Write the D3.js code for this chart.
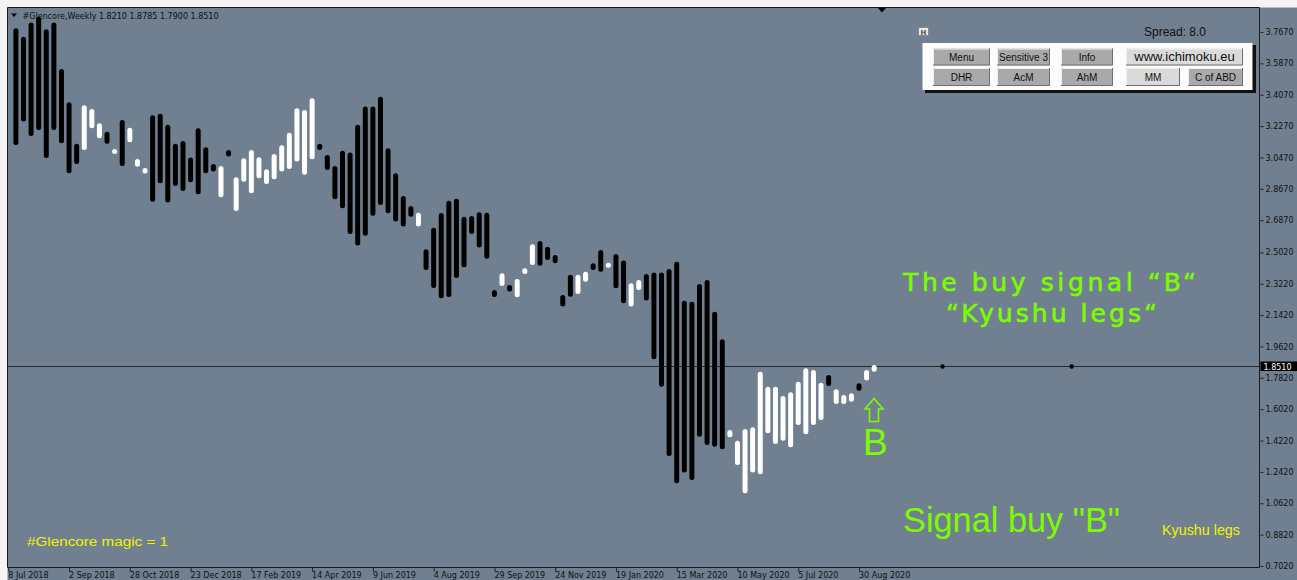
<!DOCTYPE html>
<html>
<head>
<meta charset="utf-8">
<script src="https://cdn.jsdelivr.net/npm/d3@7"></script>
<style>
  html, body { margin: 0; padding: 0; background: #f4f4f4; }
  svg { display: block; }
</style>
</head>
<body>
<svg id="chart" width="1297" height="580"></svg>
<script>
// ---------------- DATA ----------------
const symbolTitle = "#Glencore,Weekly";
const ohlcText = "1.8210 1.8785 1.7900 1.8510";
const firstWeek = "2018-07-08";           // week before the first bar
const barHigh = [
  3.789,3.740,3.821,3.855,3.783,3.821,3.555,3.364,3.125,3.347,
  3.325,3.243,3.195,3.096,3.262,3.218,3.038,2.987,3.289,3.298,
  3.234,3.125,3.142,3.046,3.215,3.106,3.010,2.998,3.090,2.933,
  3.042,3.090,3.048,2.979,3.067,3.117,3.189,3.329,3.320,3.387,
  3.125,3.061,2.998,3.086,3.075,3.234,3.339,3.339,3.396,3.100,
  2.956,2.826,2.769,2.730,2.520,2.644,2.728,2.799,2.810,2.707,
  2.711,2.732,2.730,2.286,2.382,2.315,2.350,2.411,2.549,2.568,
  2.535,2.487,2.258,2.373,2.373,2.391,2.440,2.516,2.443,2.493,
  2.455,2.325,2.344,2.378,2.386,2.386,2.407,2.449,2.225,2.219,
  2.321,2.344,2.162,2.003,1.483,1.421,1.488,1.498,1.817,1.731,
  1.731,1.678,1.699,1.760,1.837,1.827,1.754,1.798,1.716,1.684,
  1.693,1.751,1.827,1.856
];
const barLow = [
  3.119,3.253,3.170,3.205,3.044,3.205,3.129,2.956,3.010,3.090,
  3.215,3.157,3.125,3.067,2.998,3.134,2.994,2.955,2.793,2.899,
  2.788,2.883,2.855,2.905,2.836,2.956,2.966,2.819,3.052,2.740,
  2.908,2.842,2.928,2.895,2.922,2.966,2.981,3.023,2.947,3.037,
  3.090,2.975,2.807,2.755,2.608,2.541,2.598,2.713,2.774,2.727,
  2.679,2.650,2.707,2.650,2.401,2.298,2.239,2.246,2.355,2.417,
  2.608,2.530,2.466,2.246,2.309,2.277,2.245,2.378,2.430,2.426,
  2.459,2.440,2.191,2.248,2.263,2.334,2.401,2.391,2.417,2.296,
  2.210,2.191,2.286,2.226,1.889,1.731,1.333,1.177,1.238,1.196,
  1.444,1.397,1.387,1.372,1.441,1.282,1.119,1.238,1.228,1.464,
  1.402,1.421,1.383,1.511,1.458,1.511,1.540,1.735,1.632,1.632,
  1.645,1.708,1.766,1.817
];
// k = black (bearish leg), w = white (bullish leg)
const barKind = (
  "kkkkkkkkk" + "www" + "k" + "w" + "k" + "www" + "kkkkkkkkk" + "w" + "k" +
  "wwwwwwwwwww" + "kkkkkkkkkkkkk" + "w" + "kkkkkkkkkk" + "w" + "k" + "www" +
  "kkkkk" + "ww" + "kk" + "w" + "kk" + "ww" + "kkkkkkkkkkk" + "wwwwwwwwwwwww" +
  "k" + "www" + "k" + "ww"
).split("");
const priceTicks = ["3.7670","3.5870","3.4070","3.2270","3.0470","2.8670","2.6870","2.5020","2.3220",
                    "2.1420","1.9620","1.7820","1.6020","1.4220","1.2420","1.0620","0.8820","0.7020"];
const dateTickLabels = ["8 Jul 2018","2 Sep 2018","28 Oct 2018","23 Dec 2018","17 Feb 2019","14 Apr 2019",
  "9 Jun 2019","4 Aug 2019","29 Sep 2019","24 Nov 2019","19 Jan 2020","15 Mar 2020","10 May 2020",
  "5 Jul 2020","30 Aug 2020"];
const dateTickValues = ["2018-07-08","2018-09-02","2018-10-28","2018-12-23","2019-02-17","2019-04-14",
  "2019-06-09","2019-08-04","2019-09-29","2019-11-24","2020-01-19","2020-03-15","2020-05-10",
  "2020-07-05","2020-08-30"];
const currentPrice = 1.8510;
const lineDotWeeks = [123, 140];   // weeks after firstWeek
const buttonsRow1 = ["Menu","Sensitive 3","Info","www.ichimoku.eu"];
const buttonsRow2 = ["DHR","AcM","AhM","MM","C of ABD"];
const spreadText = "Spread: 8.0";

// ---------------- SETUP ----------------
const W = 1297, H = 580;
const L = 7.5, T = 7.5, R = 1259.5, B = 567.5;
const bg = "#708090";
const green = "#7cfc00";
const svg = d3.select("#chart");

const parse = d3.utcParse("%Y-%m-%d");
const x = d3.scaleUtc()
  .domain([parse("2018-07-08"), parse("2020-08-30")])
  .range([8.3, 859]);
const y = d3.scaleLinear().domain([0.702, 3.767]).range([566, 32]);

const start = parse(firstWeek);
const bars = barHigh.map((h, i) => ({
  date: d3.utcWeek.offset(start, i + 1), high: h, low: barLow[i], kind: barKind[i]
}));

// background
svg.append("rect").attr("x", L).attr("y", T).attr("width", W - L).attr("height", H - T).attr("fill", bg);

// header text
svg.append("path").attr("d", "M11,13.5 L17,13.5 L14,17 Z").attr("fill", "#000");
svg.append("text").attr("x", 22.5).attr("y", 18.5)
  .attr("font-family", "DejaVu Sans, sans-serif").attr("font-size", 8).attr("fill", "#111")
  .text(symbolTitle + "  " + ohlcText);

// shift marker
svg.append("path").attr("d", "M877.5,7.5 L886.5,7.5 L882,12.5 Z").attr("fill", "#000");

// price line
svg.append("line").attr("x1", L).attr("x2", R).attr("y1", Math.round(y(currentPrice)) + 0.5)
  .attr("y2", Math.round(y(currentPrice)) + 0.5).attr("stroke", "#262a30").attr("stroke-width", 1.2);
svg.selectAll("circle.ld").data(lineDotWeeks).enter().append("circle")
  .attr("cx", d => x(d3.utcWeek.offset(start, d)))
  .attr("cy", Math.round(y(currentPrice)) + 0.5).attr("r", 2.2).attr("fill", "#000");

// bars
svg.append("g").selectAll("rect").data(bars).enter().append("rect")
  .attr("x", d => x(d.date) - 2.5)
  .attr("y", d => y(d.high))
  .attr("width", 5)
  .attr("height", d => Math.max(5, y(d.low) - y(d.high)))
  .attr("rx", 2.5)
  .attr("fill", d => d.kind === "w" ? "#ffffff" : "#000000");

// frame
svg.append("path").attr("d", `M${L},${B} L${L},${T} L${R},${T} L${R},${B} Z`)
  .attr("fill", "none").attr("stroke", "#1a1a1a").attr("stroke-width", 1);

// right axis
const yAxis = d3.axisRight(y).tickValues(priceTicks.map(Number))
  .tickFormat((d, i) => priceTicks[i]).tickSize(3).tickPadding(2);
const gy = svg.append("g").attr("transform", `translate(${R + 1},0)`).call(yAxis);
gy.select(".domain").remove();
gy.selectAll("line").attr("stroke", "#222");
gy.selectAll("text").attr("font-family", "DejaVu Sans, sans-serif").attr("font-size", 8).attr("fill", "#111");

// price label
const py = Math.round(y(currentPrice));
svg.append("rect").attr("x", R + 1).attr("y", py - 4.5).attr("width", W - R).attr("height", 9.5).attr("fill", "#000");
svg.append("text").attr("x", R + 4).attr("y", py + 3.5)
  .attr("font-family", "DejaVu Sans, sans-serif").attr("font-size", 8).attr("fill", "#fff")
  .text(currentPrice.toFixed(4));

// bottom axis
const xAxis = d3.axisBottom(x).tickValues(dateTickValues.map(parse))
  .tickFormat((d, i) => dateTickLabels[i]).tickSize(4).tickPadding(1);
const gx = svg.append("g").attr("transform", `translate(0,${B})`).call(xAxis);
gx.select(".domain").remove();
gx.selectAll("line").attr("stroke", "#222");
gx.selectAll("text").attr("font-family", "DejaVu Sans, sans-serif").attr("font-size", 8).attr("fill", "#111")
  .attr("text-anchor", "start").attr("dx", -0.5);

// ---------------- ANNOTATIONS ----------------
svg.append("text").attr("x", 903).attr("y", 291)
  .attr("font-family", "DejaVu Sans, sans-serif").attr("font-size", 25).attr("fill", green)
  .attr("stroke", green).attr("stroke-width", 0.6)
  .attr("textLength", 293).attr("lengthAdjust", "spacing")
  .text("The buy signal \u201cB\u201c");
svg.append("text").attr("x", 946).attr("y", 322)
  .attr("font-family", "DejaVu Sans, sans-serif").attr("font-size", 25).attr("fill", green)
  .attr("stroke", green).attr("stroke-width", 0.6)
  .attr("textLength", 211).attr("lengthAdjust", "spacing")
  .text("\u201cKyushu legs\u201c");

// arrow and B
svg.append("path")
  .attr("d", "M874,398.5 L883,409 L878.5,409 L878.5,421.5 L869.5,421.5 L869.5,409 L865,409 Z")
  .attr("fill", "none").attr("stroke", green).attr("stroke-width", 1.6).attr("stroke-linejoin", "miter");
svg.append("text").attr("x", 863).attr("y", 455)
  .attr("font-family", "Liberation Sans, Arial, sans-serif").attr("font-size", 37).attr("fill", green)
  .text("B");

svg.append("text").attr("x", 903).attr("y", 532)
  .attr("font-family", "Liberation Sans, Arial, sans-serif").attr("font-size", 35).attr("fill", green)
  .attr("textLength", 217).attr("lengthAdjust", "spacingAndGlyphs")
  .text("Signal buy \"B\"");
svg.append("text").attr("x", 1162).attr("y", 535)
  .attr("font-family", "Liberation Sans, Arial, sans-serif").attr("font-size", 14).attr("fill", "#f2f200")
  .attr("textLength", 78).attr("lengthAdjust", "spacingAndGlyphs")
  .text("Kyushu legs");
svg.append("text").attr("x", 27).attr("y", 546)
  .attr("font-family", "Liberation Sans, Arial, sans-serif").attr("font-size", 13).attr("fill", "#f2f200")
  .attr("textLength", 141).attr("lengthAdjust", "spacingAndGlyphs")
  .text("#Glencore  magic = 1");

// ---------------- BUTTON PANEL ----------------
const panel = svg.append("g");
panel.append("rect").attr("x", 925).attr("y", 45).attr("width", 331).attr("height", 48).attr("fill", "#111");
panel.append("rect").attr("x", 922.5).attr("y", 43).attr("width", 330).attr("height", 47).attr("fill", "#fcfcfc");
// H icon
panel.append("rect").attr("x", 918.5).attr("y", 27.5).attr("width", 10).attr("height", 8).attr("fill", "#e8e8e8").attr("stroke", "#888");
panel.append("text").attr("x", 923.5).attr("y", 34.5).attr("text-anchor", "middle")
  .attr("font-family", "DejaVu Sans, sans-serif").attr("font-size", 7).attr("font-weight", "bold").attr("fill", "#555").text("H");
panel.append("text").attr("x", 1144).attr("y", 36)
  .attr("font-family", "Liberation Sans, Arial, sans-serif").attr("font-size", 12).attr("fill", "#111")
  .text(spreadText);

const row1 = [[933, 990], [997, 1050], [1061, 1113], [1126, 1243]];
const row2 = [[933, 990], [997, 1050], [1061, 1113], [1126, 1180], [1188, 1243]];
function drawButtons(labels, spans, y0, h) {
  labels.forEach((lab, i) => {
    const [a, b] = spans[i];
    const light = (lab === "www.ichimoku.eu" || lab === "MM");
    const g = panel.append("g");
    g.append("rect").attr("x", a).attr("y", y0).attr("width", b - a).attr("height", h)
      .attr("fill", light ? "#dadada" : "#a9a9a9");
    g.append("path").attr("d", `M${a + 0.5},${y0 + h} L${a + 0.5},${y0 + 0.5} L${b},${y0 + 0.5}`)
      .attr("fill", "none").attr("stroke", "#f0f0f0");
    g.append("path").attr("d", `M${a},${y0 + h - 0.5} L${b - 0.5},${y0 + h - 0.5} L${b - 0.5},${y0}`)
      .attr("fill", "none").attr("stroke", "#6e6e6e");
    const t = g.append("text").attr("x", (a + b) / 2).attr("y", y0 + h / 2 + 3.5).attr("text-anchor", "middle")
      .attr("font-family", "Liberation Sans, Arial, sans-serif")
      .attr("font-size", lab === "www.ichimoku.eu" ? 13 : 10).attr("fill", "#111").text(lab);
    if (lab === "Sensitive 3") t.attr("textLength", 49).attr("lengthAdjust", "spacingAndGlyphs");
  });
}
drawButtons(buttonsRow1, row1, 48.5, 17);
drawButtons(buttonsRow2, row2, 68, 18);
</script>
</body>
</html>
